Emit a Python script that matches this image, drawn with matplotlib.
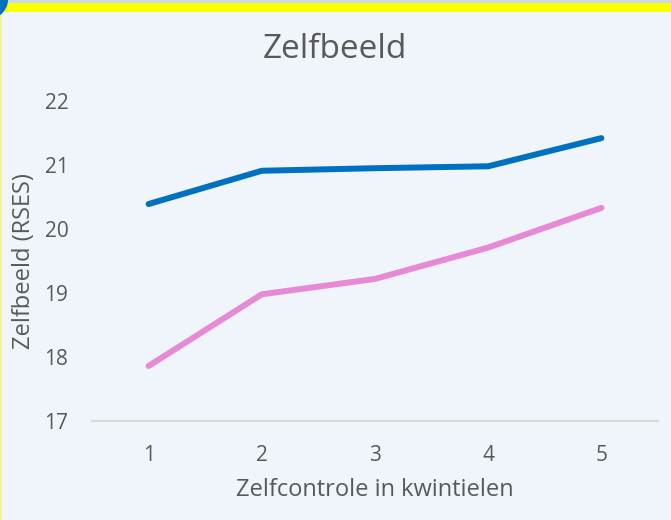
# -*- coding: utf-8 -*-
import matplotlib
matplotlib.use('Agg')
import matplotlib.pyplot as plt
from matplotlib.patches import Rectangle, Circle

#------------------------------------------------------------------------------
# data
kwintielen = [1, 2, 3, 4, 5]
tick_labels = ['1', '2', '3', '4', '5']
serie_blauw = [20.39, 20.91, 20.95, 20.98, 21.42]
serie_roze = [17.86, 18.98, 19.22, 19.71, 20.33]
y_ticks = [17, 18, 19, 20, 21, 22]

#------------------------------------------------------------------------------
bg = '#eff5fa'
grey = '#595959'
plt.rcParams['font.family'] = ['Open Sans', 'DejaVu Sans']

fig = plt.figure(figsize=(6.71, 5.2), dpi=100)
fig.patch.set_facecolor(bg)

# top border strips and the blue corner circle
fig.patches.append(Rectangle((0, 1 - 3/520), 1, 3/520, transform=fig.transFigure,
                             facecolor='#c5dbe3', edgecolor='none'))
fig.patches.append(Rectangle((0, 1 - 12/520), 1, 9/520, transform=fig.transFigure,
                             facecolor='#ffff00', edgecolor='none'))
fig.patches.append(Rectangle((0, 0), 2/671, 1, transform=fig.transFigure,
                             facecolor='#f4f4a0', edgecolor='none'))
fig.patches.append(Circle((-20/671, 1.0), 28/671, transform=fig.transFigure,
                          facecolor='#0070c0', edgecolor='none'))

ax = fig.add_axes([92/671, 99/520, 566/671, 320/520])
ax.set_facecolor(bg)

ax.plot(kwintielen, serie_blauw, color='#0070c0', lw=4.3, solid_capstyle='round',
        solid_joinstyle='round')
ax.plot(kwintielen, serie_roze, color='#e68ad6', lw=4.3, solid_capstyle='round',
        solid_joinstyle='round')

ax.set_xlim(0.5, 5.5)
ax.set_ylim(17, 22)
ax.set_xticks(kwintielen)
ax.set_xticklabels(tick_labels)
ax.set_yticks(y_ticks)

for s in ['top', 'right', 'left']:
    ax.spines[s].set_visible(False)
ax.spines['bottom'].set_color('#d9d9d9')
ax.spines['bottom'].set_linewidth(1.5)

ax.tick_params(axis='both', length=0, labelsize=15, labelcolor=grey)
ax.tick_params(axis='x', pad=17)
ax.tick_params(axis='y', pad=17)

ax.set_xlabel('Zelfcontrole in kwintielen', fontsize=17, color=grey, labelpad=9)
ax.set_ylabel('Zelfbeeld (RSES)', fontsize=17, color=grey, labelpad=6)

fig.text(335/671, 1 - 50/520, 'Zelfbeeld', fontsize=24, color=grey,
         ha='center', va='center')

fig.savefig('out.png', dpi=100, facecolor=bg)
